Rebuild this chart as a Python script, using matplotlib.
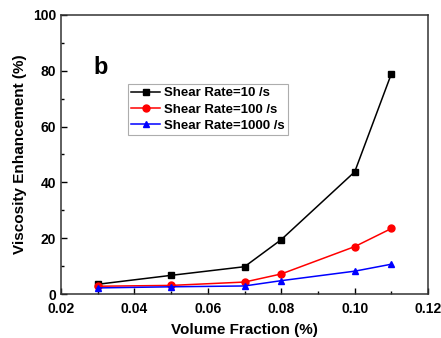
import matplotlib.pyplot as plt
from matplotlib.ticker import MultipleLocator

volume_fraction = [0.03, 0.05, 0.07, 0.08, 0.10, 0.11]
rate_10 = [3.5, 6.7, 9.8, 19.5, 43.8, 79.0]
rate_100 = [2.8, 3.1, 4.3, 7.2, 17.0, 23.5]
rate_1000 = [2.2, 2.6, 2.9, 4.8, 8.2, 10.7]

plt.rcParams['font.family'] = ['Liberation Sans', 'DejaVu Sans']
plt.rcParams['font.weight'] = 'bold'

fig = plt.figure(figsize=(4.41, 3.38), dpi=100)
ax = fig.add_axes([0.138, 0.13, 0.833, 0.826])

ax.plot(volume_fraction, rate_10, color='black', marker='s', markersize=5, lw=1.1, label='Shear Rate=10 /s')
ax.plot(volume_fraction, rate_100, color='red', marker='o', markersize=5, lw=1.1, label='Shear Rate=100 /s')
ax.plot(volume_fraction, rate_1000, color='blue', marker='^', markersize=5, lw=1.1, label='Shear Rate=1000 /s')

ax.set_xlim(0.02, 0.12)
ax.set_ylim(0, 100)
ax.xaxis.set_major_locator(MultipleLocator(0.02))
ax.xaxis.set_minor_locator(MultipleLocator(0.01))
ax.yaxis.set_major_locator(MultipleLocator(20))
ax.yaxis.set_minor_locator(MultipleLocator(10))
ax.xaxis.set_major_formatter(plt.FormatStrFormatter('%.2f'))
ax.tick_params(which='both', direction='in', labelsize=10, width=1)
ax.tick_params(which='major', length=4)
ax.tick_params(which='minor', length=2.5)
ax.tick_params(axis='x', pad=6)
for s in ax.spines.values():
    s.set_linewidth(1.1)
    s.set_color('#333333')

ax.set_xlabel('Volume Fraction (%)', fontsize=11, fontweight='bold', labelpad=5)
ax.set_ylabel('Viscosity Enhancement (%)', fontsize=11, fontweight='bold')

ax.text(0.09, 0.81, 'b', transform=ax.transAxes, fontsize=17, fontweight='bold', va='center')

leg = ax.legend(loc='upper left', bbox_to_anchor=(0.182, 0.753), fontsize=9.5,
                frameon=True, fancybox=False, edgecolor='#999999',
                handlelength=2.2, borderpad=0.25, labelspacing=0.3, handletextpad=0.3,
                borderaxespad=0)
leg.get_frame().set_linewidth(0.8)

fig.savefig('out.png', dpi=100)
